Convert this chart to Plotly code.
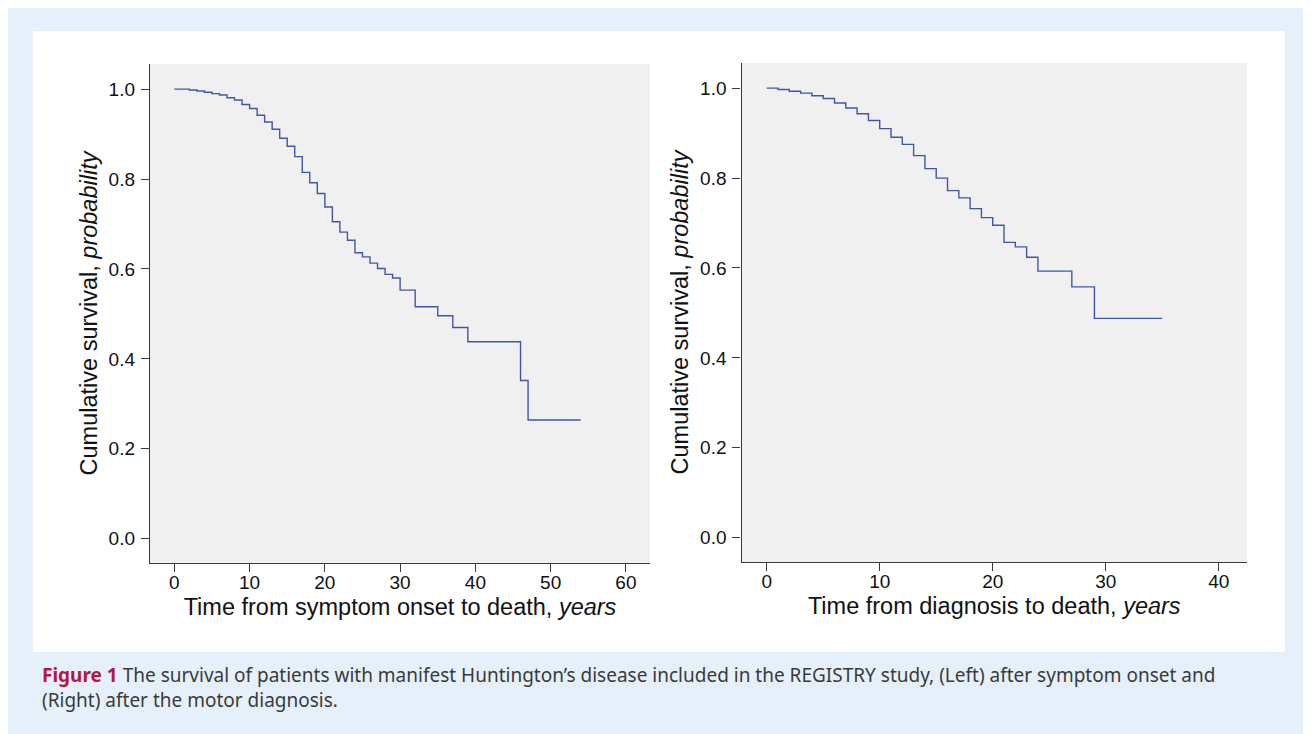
import plotly.graph_objects as go

# page body has an 8px margin; figure fills the rest of the 1311x734 window
OFF = 8
W, H = 1311 - OFF, 734 - OFF

# ---- data ----
onset_years = [0, 2, 3, 4, 5, 6, 7, 8, 9, 10, 11, 12, 13, 14, 15, 16, 17, 18, 19, 20,
               21, 22, 23, 24, 25, 26, 27, 28, 29, 30, 32, 35, 37, 39, 46, 47, 54]
onset_survival = [1.000, 0.998, 0.996, 0.993, 0.990, 0.987, 0.981, 0.976, 0.966, 0.957,
                  0.942, 0.927, 0.911, 0.891, 0.873, 0.850, 0.815, 0.792, 0.768, 0.738,
                  0.705, 0.682, 0.664, 0.636, 0.627, 0.613, 0.601, 0.588, 0.580, 0.553,
                  0.516, 0.496, 0.470, 0.438, 0.352, 0.264, 0.264]

diag_years = [0, 1, 2, 3, 4, 5, 6, 7, 8, 9, 10, 11, 12, 13, 14, 15, 16, 17, 18, 19, 20,
              21, 22, 23, 24, 27, 29, 35]
diag_survival = [1.000, 0.997, 0.993, 0.989, 0.983, 0.977, 0.967, 0.956, 0.943, 0.928,
                 0.910, 0.891, 0.875, 0.850, 0.821, 0.800, 0.772, 0.756, 0.732, 0.712,
                 0.695, 0.657, 0.647, 0.624, 0.593, 0.558, 0.488, 0.488]

left_xticks = [0, 10, 20, 30, 40, 50, 60]
right_xticks = [0, 10, 20, 30, 40]
y_ticks = [0.0, 0.2, 0.4, 0.6, 0.8, 1.0]
y_ticklabels = ["0.0", "0.2", "0.4", "0.6", "0.8", "1.0"]

left_xtitle = "Time from symptom onset to death, <i>years</i>"
right_xtitle = "Time from diagnosis to death, <i>years</i>"
ytitle = "Cumulative survival, <i>probability</i>"
caption_head = "<b>Figure 1</b>"
caption_line1 = ("The survival of patients with manifest Huntington\u2019s disease included in the "
                 "REGISTRY study, (Left) after symptom onset and")
caption_line2 = "(Right) after the motor diagnosis."

# ---- style ----
LINE = "#3f57a8"
AX = "#3a3a3a"
FONT = "Liberation Sans, Arial, sans-serif"
BLUE_BG = "#e6f0fa"
PLOT_BG = "#f0f0f0"


def px(x):
    return (x - OFF) / W


def py(y):
    return 1 - (y - OFF) / H


fig = go.Figure()
fig.add_trace(go.Scatter(x=onset_years, y=onset_survival, mode="lines",
                         line=dict(shape="hv", color=LINE, width=1.4),
                         xaxis="x", yaxis="y", showlegend=False, hoverinfo="skip"))
fig.add_trace(go.Scatter(x=diag_years, y=diag_survival, mode="lines",
                         line=dict(shape="hv", color=LINE, width=1.4),
                         xaxis="x2", yaxis="y2", showlegend=False, hoverinfo="skip"))

axis_common = dict(showgrid=False, zeroline=False, showline=True, linecolor=AX,
                   linewidth=1.4, ticks="outside", ticklen=8, tickwidth=1.4,
                   tickcolor=AX, tickfont=dict(family=FONT, size=19, color="#111"),
                   mirror=False)
title_font = dict(family=FONT, size=23.5, color="#111")

fig.update_layout(
    width=W, height=H,
    margin=dict(l=0, r=0, t=0, b=0),
    paper_bgcolor=BLUE_BG,
    plot_bgcolor="rgba(0,0,0,0)",
    font=dict(family=FONT, color="#111"),
    xaxis=dict(domain=[px(150), px(650)], range=[-3.23, 63.2], tickvals=left_xticks,
               anchor="y", ticklabelstandoff=-6,
               title=dict(text=left_xtitle, font=title_font, standoff=6),
               **axis_common),
    yaxis=dict(domain=[py(563), py(64)], range=[-0.054, 1.056], tickvals=y_ticks,
               ticktext=y_ticklabels, anchor="x", ticklabelstandoff=2,
               title=dict(text=ytitle, font=title_font, standoff=4),
               **axis_common),
    xaxis2=dict(domain=[px(741.5), px(1247)], range=[-2.23, 42.5], tickvals=right_xticks,
                anchor="y2", ticklabelstandoff=-6,
                title=dict(text=right_xtitle, font=title_font, standoff=6),
                **axis_common),
    yaxis2=dict(domain=[py(562), py(63)], range=[-0.054, 1.056], tickvals=y_ticks,
                ticktext=y_ticklabels, anchor="x2", ticklabelstandoff=2,
                title=dict(text=ytitle, font=title_font, standoff=4),
                **axis_common),
)

shapes = [
    dict(type="rect", xref="paper", yref="paper", x0=px(33), x1=px(1285), y0=py(652), y1=py(31),
         fillcolor="white", line=dict(width=0), layer="below"),
    dict(type="rect", xref="x domain", yref="y domain", x0=0, x1=1, y0=0, y1=1,
         fillcolor=PLOT_BG, line=dict(width=0), layer="below"),
    dict(type="rect", xref="x2 domain", yref="y2 domain", x0=0, x1=1, y0=0, y1=1,
         fillcolor=PLOT_BG, line=dict(width=0), layer="below"),
]
fig.update_layout(shapes=shapes)

CAP_FONT = "Noto Sans, sans-serif"
fig.add_annotation(xref="paper", yref="paper", x=px(40), y=py(687), xanchor="left",
                   yanchor="middle", showarrow=False, align="left",
                   text=(f"<span style='color:#b5173f'>{caption_head}</span> "
                         f"{caption_line1}<br>{caption_line2}"),
                   font=dict(family=CAP_FONT, size=19, color="#3a3a3a"))

fig.write_html("out.html")
